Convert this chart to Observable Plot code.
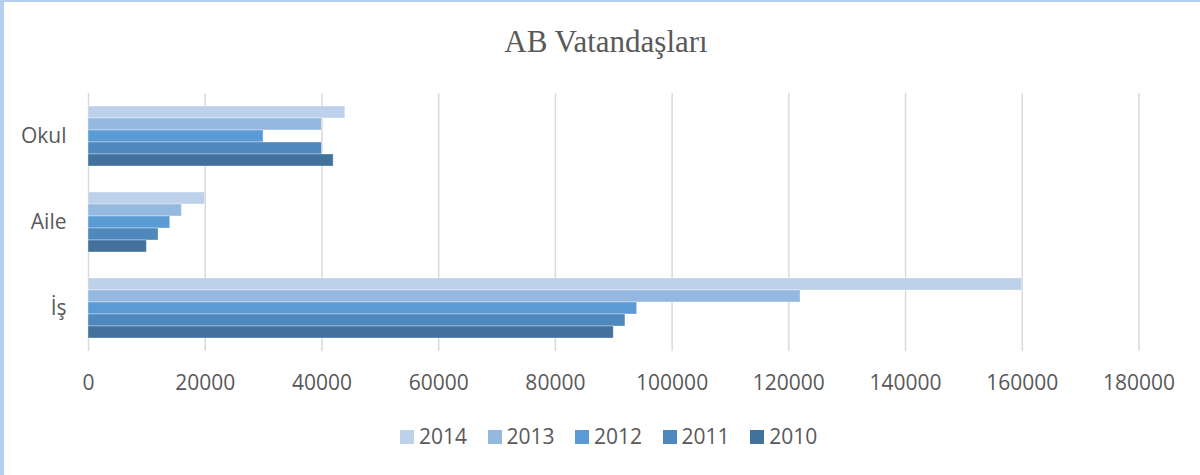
<!DOCTYPE html>
<html>
<head>
<meta charset="utf-8">
<script src="https://cdn.jsdelivr.net/npm/d3@7"></script>
<script src="https://cdn.jsdelivr.net/npm/@observablehq/plot@0.6"></script>
<style>
  html, body { margin: 0; padding: 0; background: #fff; }
  #wrap { position: relative; width: 1200px; height: 475px; overflow: hidden; background: #fff; }
  #bl { position: absolute; left: 0; top: 0; width: 4px; height: 475px; background: #b3cfef; }
  #bt { position: absolute; left: 0; top: 0; width: 1200px; height: 2px; background: #b3cfef; }
  #title { position: absolute; left: 6px; top: 26px; width: 1200px; text-align: center;
           font-family: "Liberation Serif", serif; font-size: 31px; line-height: 31px; color: #595959; }
  #chart { position: absolute; left: 0; top: 80px; }
  #chart svg [aria-label="fy-axis"] text { font-size: 20px; }
  #legend { position: absolute; left: 400px; top: 426px; display: flex; align-items: center;
            font-family: "Open Sans", sans-serif; font-size: 21px; line-height: 21px; color: #595959; }
  .item { display: flex; align-items: center; margin-right: 20.5px; }
  .sw { width: 14px; height: 14px; margin-right: 5px; }
</style>
</head>
<body>
<div id="wrap">
  <div id="bl"></div>
  <div id="bt"></div>
  <div id="title">AB Vatandaşları</div>
  <div id="chart"></div>
  <div id="legend"></div>
</div>
<script>
const categories = ["Okul", "Aile", "İş"];
const years = ["2014", "2013", "2012", "2011", "2010"];
const values2014 = [44000, 20000, 160000];
const values2013 = [40000, 16000, 122000];
const values2012 = [30000, 14000, 94000];
const values2011 = [40000, 12000, 92000];
const values2010 = [42000, 10000, 90000];
const xTicks = [0, 20000, 40000, 60000, 80000, 100000, 120000, 140000, 160000, 180000];
const colors = ["#bdd1ea", "#95b8e0", "#5b9bd5", "#4e88bd", "#41719c"];

const seriesByYear = {"2014": values2014, "2013": values2013, "2012": values2012, "2011": values2011, "2010": values2010};
const table = [];
for (const c of categories) {
  const i = categories.indexOf(c);
  for (const y of years) table.push({category: c, year: y, value: seriesByYear[y][i]});
}

const chart = Plot.plot({
  width: 1200,
  height: 320,
  marginLeft: 88,
  marginRight: 61.5,
  marginTop: 12,
  marginBottom: 48,
  style: {fontFamily: "Open Sans, sans-serif", fontSize: "21px", color: "#595959", background: "transparent", overflow: "visible"},
  facet: {data: table, y: "category"},
  fy: {domain: categories, padding: 0, axis: "left", tickSize: 0, tickPadding: 22, label: null},
  y: {domain: years, paddingInner: 0, paddingOuter: 0.94, axis: null},
  x: {domain: [0, 180000], ticks: xTicks, tickFormat: d => String(d), tickSize: 0, tickPadding: 24, label: null},
  color: {domain: years, range: colors},
  marks: [
    Plot.ruleX(xTicks, {stroke: "#d9d9d9", strokeWidth: 1.5}),
    Plot.barX(table, {x: "value", y: "year", fill: "year", stroke: "#ffffff", strokeOpacity: 0.35, strokeWidth: 1})
  ]
});
document.getElementById("chart").appendChild(chart);

const legend = document.getElementById("legend");
years.forEach((y, i) => {
  const item = document.createElement("div");
  item.className = "item";
  const sw = document.createElement("div");
  sw.className = "sw";
  sw.style.background = colors[i];
  const t = document.createElement("span");
  t.textContent = y;
  item.appendChild(sw);
  item.appendChild(t);
  legend.appendChild(item);
});
</script>
</body>
</html>
